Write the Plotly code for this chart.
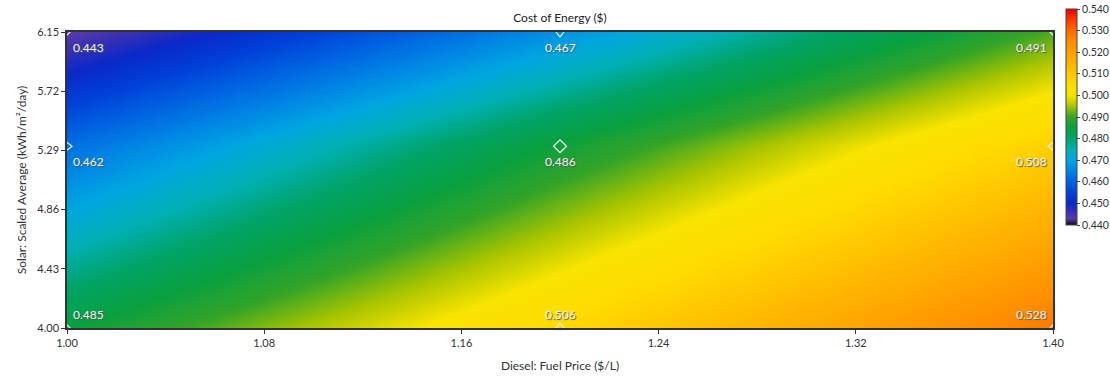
import plotly.graph_objects as go

diesel_price = [1.00, 1.20, 1.40]
solar_avg = [4.00, 5.32, 6.15]
# cost of energy, rows = solar_avg, cols = diesel_price
coe = [
    [0.485, 0.506, 0.528],
    [0.462, 0.486, 0.508],
    [0.443, 0.467, 0.491],
]
x_ticks = [1.00, 1.08, 1.16, 1.24, 1.32, 1.40]
y_ticks = [4.00, 4.43, 4.86, 5.29, 5.72, 6.15]
cb_ticks = [0.44, 0.45, 0.46, 0.47, 0.48, 0.49, 0.50, 0.51, 0.52, 0.53, 0.54]

FONT = "Lato"
TXT = "#333333"

colorscale = [
    [0.00, "#100a28"],
    [0.03, "#5a3aa8"],
    [0.06, "#3a30b4"],
    [0.10, "#0a28c8"],
    [0.15, "#0040d8"],
    [0.20, "#0062e0"],
    [0.25, "#0084e4"],
    [0.30, "#00a6e0"],
    [0.35, "#00b0b4"],
    [0.40, "#00a468"],
    [0.45, "#08a040"],
    [0.50, "#34a428"],
    [0.55, "#a8c400"],
    [0.60, "#f8e400"],
    [0.65, "#ffdc00"],
    [0.70, "#ffc800"],
    [0.75, "#ffb400"],
    [0.80, "#ffa000"],
    [0.85, "#ff8c00"],
    [0.90, "#ff6c00"],
    [0.95, "#f83c00"],
    [1.00, "#f00000"],
]

fig = go.Figure()
fig.add_trace(go.Heatmap(
    x=diesel_price, y=solar_avg, z=coe,
    zsmooth="best", zmin=0.44, zmax=0.54,
    colorscale=colorscale,
    hoverinfo="skip",
    colorbar=dict(
        x=(1066 - 67) / 986, xanchor="left", xref="paper", xpad=0,
        y=(328 - 9) / 296, yanchor="top", ypad=0,
        len=216 / 296, lenmode="fraction",
        thickness=11, outlinewidth=1, outlinecolor="#444",
        tickvals=cb_ticks, tickformat=".3f",
        ticks="outside", ticklen=3, tickcolor="#444",
        tickfont=dict(family=FONT, size=10.5, color=TXT),
    ),
))

# marker symbols depending on position in grid
sym = {
    (0, 0): "triangle-sw-open", (0, 1): "triangle-up-open", (0, 2): "triangle-se-open",
    (1, 0): "triangle-right-open", (1, 1): "diamond-open", (1, 2): "triangle-left-open",
    (2, 0): "triangle-nw-open", (2, 1): "triangle-down-open", (2, 2): "triangle-ne-open",
}
mx, my, ms = [], [], []
for i, yv in enumerate(solar_avg):
    for j, xv in enumerate(diesel_price):
        mx.append(xv); my.append(yv); ms.append(sym[(i, j)])
fig.add_trace(go.Scatter(
    x=mx, y=my, mode="markers", cliponaxis=False, hoverinfo="skip",
    marker=dict(symbol=ms, size=10, color="#f0f0f0", line=dict(width=1.2, color="#f0f0f0")),
    showlegend=False,
))

for i, yv in enumerate(solar_avg):
    for j, xv in enumerate(diesel_price):
        fig.add_annotation(
            x=xv, y=yv, text=f"{coe[i][j]:.3f}", showarrow=False,
            xanchor=["left", "center", "right"][j],
            yanchor="middle",
            xshift=[4, 0, -4][j],
            yshift=(14 if i == 0 else -15),
            font=dict(family=FONT, size=12, color="#f4f4f4", shadow="1px 1px 1px #555"),
        )

fig.update_layout(
    width=1110, height=378,
    margin=dict(l=67, r=57, t=32, b=50, autoexpand=False),
    paper_bgcolor="white", plot_bgcolor="white",
    title=dict(text="Cost of Energy ($)", x=(67 + 1053) / 2 / 1110, xanchor="center",
               y=1 - 18 / 378, yanchor="middle",
               font=dict(family=FONT, size=12, color="#222")),
    xaxis=dict(range=[1.00, 1.40], tickvals=x_ticks, tickformat=".2f",
               ticks="outside", ticklen=4, tickcolor="#333",
               showgrid=False, zeroline=False,
               showline=True, linecolor="#333", linewidth=1.5, mirror=True,
               tickfont=dict(family=FONT, size=11, color=TXT),
               title=dict(text="Diesel: Fuel Price ($/L)", standoff=14,
                          font=dict(family=FONT, size=12, color=TXT))),
    yaxis=dict(range=[4.00, 6.15], tickvals=y_ticks, tickformat=".2f",
               ticks="outside", ticklen=4, tickcolor="#333",
               showgrid=False, zeroline=False,
               showline=True, linecolor="#333", linewidth=1.5, mirror=True,
               tickfont=dict(family=FONT, size=11, color=TXT),
               title=dict(text="Solar: Scaled Average (kWh/m²/day)", standoff=8,
                          font=dict(family=FONT, size=12, color=TXT))),
)

fig.write_html("out.html")
